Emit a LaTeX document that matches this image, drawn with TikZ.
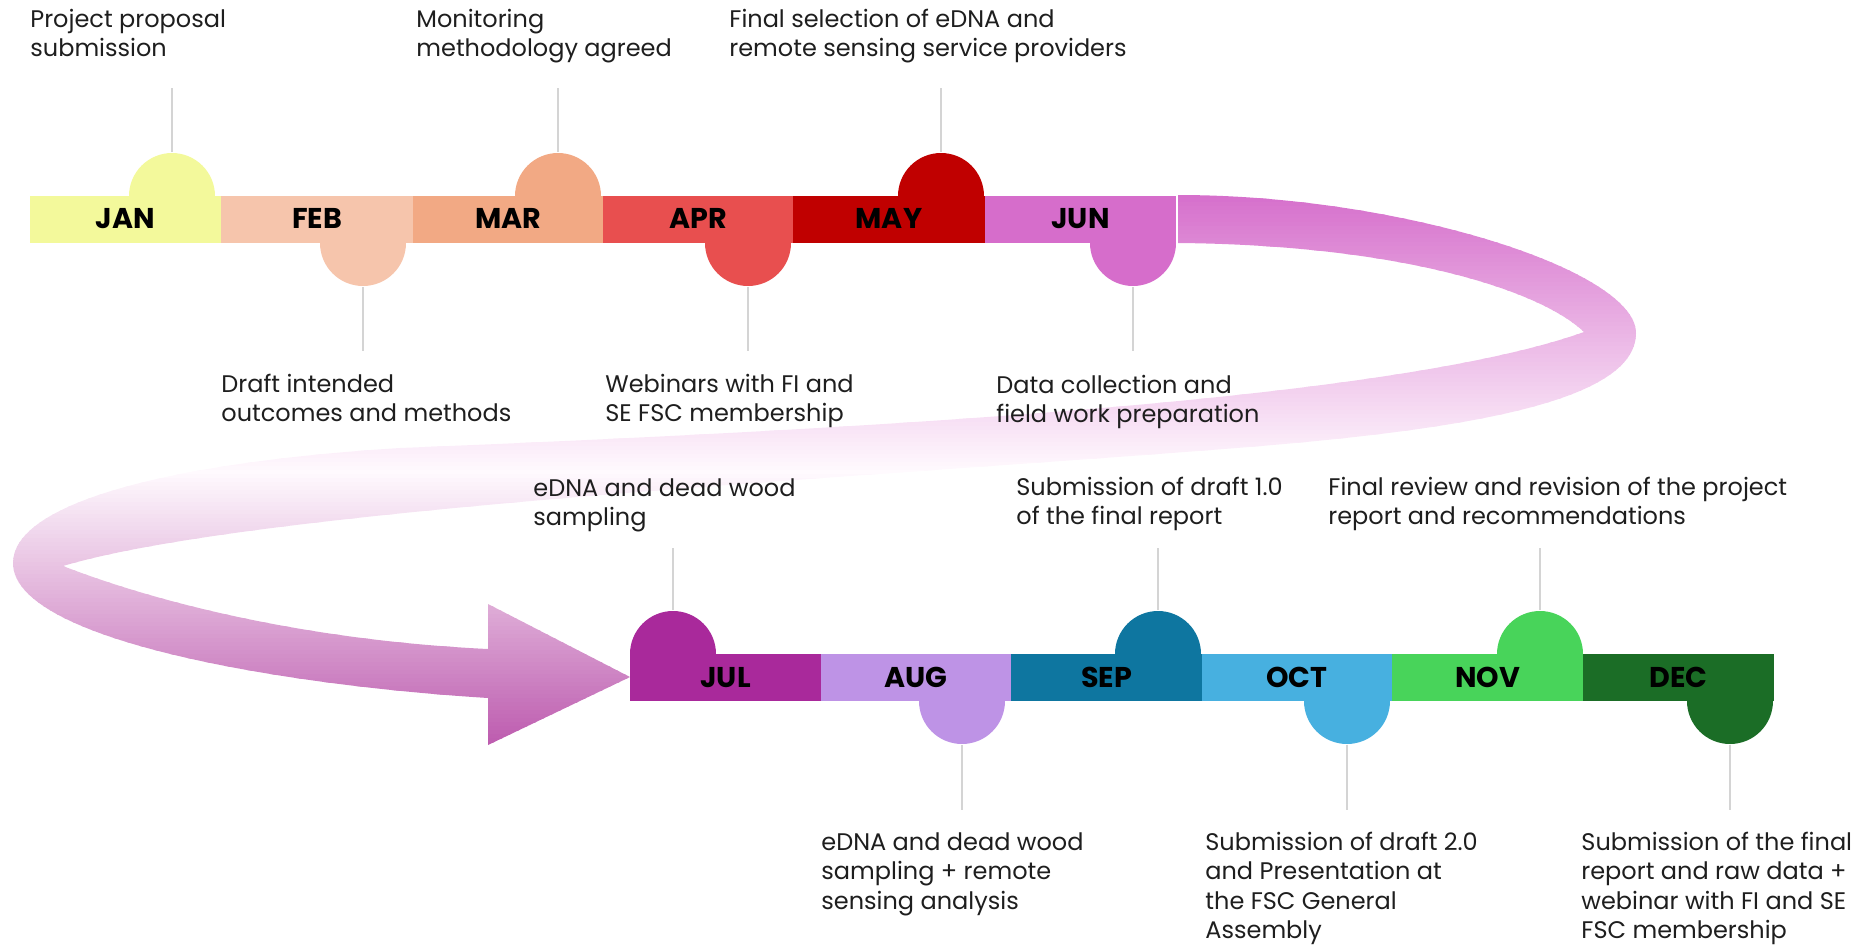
\documentclass[tikz,border=0pt]{standalone}
\usepackage{fontspec}
\setmainfont{Poppins}
\definecolor{cJAN}{HTML}{F3F99B}
\definecolor{cFEB}{HTML}{F6C5AC}
\definecolor{cMAR}{HTML}{F2A984}
\definecolor{cAPR}{HTML}{E84F4F}
\definecolor{cMAY}{HTML}{C00000}
\definecolor{cJUN}{HTML}{D66DCB}
\definecolor{cJUL}{HTML}{A9299B}
\definecolor{cAUG}{HTML}{BE93E6}
\definecolor{cSEP}{HTML}{0E76A0}
\definecolor{cOCT}{HTML}{47B0E0}
\definecolor{cNOV}{HTML}{48D45A}
\definecolor{cDEC}{HTML}{1B6D26}
\definecolor{ribtop}{HTML}{D670CC}
\definecolor{ribmid}{HTML}{FFFAFE}
\definecolor{ribbot}{HTML}{BC5AAE}
\definecolor{tickc}{HTML}{D4D4D4}
\definecolor{txtc}{HTML}{1E1E1E}
\newcommand{\lstrut}{\rule{0pt}{1em}}
\begin{document}
\begin{tikzpicture}[x=0.5pt,y=-0.5pt,
  lbl/.style={anchor=north west, inner sep=0pt, align=left, text=txtc,
    font=\fontsize{12pt}{14.65pt}\selectfont},
  mon/.style={anchor=base, inner sep=0pt, text=black,
    font=\fontsize{14.3pt}{16pt}\selectfont\bfseries},
  tick/.style={draw=tickc, line width=1pt}]
\useasboundingbox (0,0) rectangle (1876,944);

% ribbon arrow, filled with a vertical gradient made of thin strips
\begin{scope}
\clip
 (1178,195) .. controls (1400,195) and (1636,270) .. (1636,333)
 .. controls (1636,405) and (1450,432) .. (1211,450)
 .. controls (850,478) and (250,510) .. (63,566)
 .. controls (150,600) and (300,640) .. (488,649)
 -- (488,604) -- (630,677) -- (488,745) -- (488,698)
 .. controls (280,685) and (13,640) .. (13,563)
 .. controls (13,505) and (160,463) .. (400,448)
 .. controls (900,428) and (1400,398) .. (1584,332)
 .. controls (1540,290) and (1400,245) .. (1178,243) -- cycle;
\foreach \i [evaluate=\i as \yy using 190+4*\i,
             evaluate=\i as \pp using {max(0,min(100,(470-190-4*\i)/2.75))}] in {0,...,70}{
  \fill[ribtop!\pp!ribmid] (0,\yy) rectangle (1700,\yy+5);
}
\foreach \i [evaluate=\i as \yy using 470+4*\i,
             evaluate=\i as \pp using {max(0,min(100,(4*\i)/2.75))}] in {0,...,70}{
  \fill[ribbot!\pp!ribmid] (0,\yy) rectangle (1700,\yy+5);
}
\end{scope}

% month segments
\foreach \l/\r/\c in {30/221/cJAN, 221/413/cFEB, 413/603/cMAR, 603/793/cAPR,
  793/985/cMAY, 985/1176/cJUN}{
  \fill[\c] (\l,196) rectangle (\r,243);
}
\foreach \l/\r/\c in {630/821/cJUL, 821/1011/cAUG, 1011/1202/cSEP, 1202/1392/cOCT,
  1392/1583/cNOV, 1583/1774/cDEC}{
  \fill[\c] (\l,654) rectangle (\r,701);
}

% bumps pointing up and their ticks
\foreach \n/\cx/\c/\yb/\yt/\ye in {jan/172/cJAN/196/152/88, mar/558/cMAR/196/152/88,
  may/941/cMAY/196/152/88, jul/673/cJUL/654/610/548, sep/1158/cSEP/654/610/548,
  nov/1540/cNOV/654/610/548}{
  \fill[\c] (\cx,\yb) circle[radius=21.5pt];
  \coordinate (\n b) at (\cx,\yt);
  \coordinate (\n e) at (\cx,\ye);
  \draw[tick] (\n b) -- (\n e);
}
% bumps pointing down and their ticks
\foreach \n/\cx/\c/\yb/\yt/\ye in {feb/363/cFEB/243/287/351, apr/748/cAPR/243/287/351,
  jun/1133/cJUN/243/287/351, aug/962/cAUG/701/745/810, oct/1347/cOCT/701/745/810,
  dec/1730/cDEC/701/745/810}{
  \fill[\c] (\cx,\yb) circle[radius=21.5pt];
  \coordinate (\n b) at (\cx,\yt);
  \coordinate (\n e) at (\cx,\ye);
  \draw[tick] (\n b) -- (\n e);
}

% month labels
\foreach \n/\l/\r/\lab in {jan/30/221/JAN, feb/221/413/FEB, mar/413/603/MAR,
  apr/603/793/APR, may/793/985/MAY, jun/985/1176/JUN}{
  \node[mon] (\n) at ({(\l+\r)/2},228) {\lab};
}
\foreach \n/\l/\r/\lab in {jul/630/821/JUL, aug/821/1011/AUG, sep/1011/1202/SEP,
  oct/1202/1392/OCT, nov/1392/1583/NOV, dec/1583/1774/DEC}{
  \node[mon] (\n) at ({(\l+\r)/2},687) {\lab};
}

% labels (first baseline = node top + 1em)
\node[lbl] (tjan) at (30,3) {\lstrut Project proposal\\submission};
\node[lbl] (tmar) at (416,3) {\lstrut Monitoring\\methodology agreed};
\node[lbl] (tmay) at (729,3) {\lstrut Final selection of eDNA and\\remote sensing service providers};
\node[lbl] (tfeb) at (221,368) {\lstrut Draft intended\\outcomes and methods};
\node[lbl] (tapr) at (605,368) {\lstrut Webinars with FI and\\SE FSC membership};
\node[lbl] (tjun) at (996,369) {\lstrut Data collection and\\field work preparation};
\node[lbl] (tjul) at (533,472) {\lstrut eDNA and dead wood\\sampling};
\node[lbl] (tsep) at (1016,471) {\lstrut Submission of draft 1.0\\of the final report};
\node[lbl] (tnov) at (1328,471) {\lstrut Final review and revision of the project\\report and recommendations};
\node[lbl] (taug) at (821,826) {\lstrut eDNA and dead wood\\sampling + remote\\sensing analysis};
\node[lbl] (toct) at (1205,826) {\lstrut Submission of draft 2.0\\and Presentation at\\the FSC General\\Assembly};
\node[lbl] (tdec) at (1581,826) {\lstrut Submission of the final\\report and raw data +\\webinar with FI and SE\\FSC membership};
\end{tikzpicture}
\end{document}
